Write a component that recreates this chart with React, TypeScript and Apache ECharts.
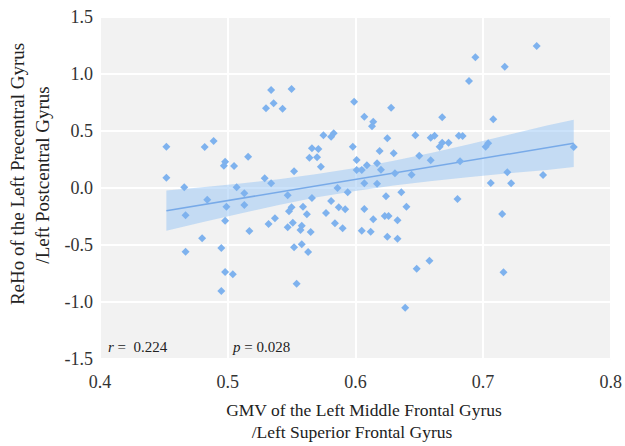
import React, { useEffect, useRef } from "react";
import * as echarts from "echarts";

const xValues = [
  0.534, 0.55, 0.536, 0.53, 0.543, 0.599, 0.452, 0.482, 0.489, 0.498,
  0.497, 0.505, 0.516, 0.575, 0.581, 0.583, 0.566, 0.571, 0.564, 0.57,
  0.573, 0.552, 0.529, 0.534, 0.452, 0.466, 0.507, 0.586, 0.598, 0.601,
  0.601, 0.742, 0.694, 0.717, 0.689, 0.628, 0.607, 0.614, 0.613, 0.668,
  0.708, 0.625, 0.647, 0.659, 0.662, 0.681, 0.684, 0.619, 0.63, 0.666,
  0.668, 0.673, 0.702, 0.704, 0.771, 0.65, 0.659, 0.682, 0.605, 0.609,
  0.617, 0.62, 0.631, 0.644, 0.719, 0.747, 0.607, 0.617, 0.706, 0.722,
  0.484, 0.513, 0.499, 0.513, 0.547, 0.566, 0.594, 0.581, 0.55, 0.548,
  0.559, 0.562, 0.587, 0.592, 0.577, 0.467, 0.498, 0.537, 0.532, 0.551,
  0.558, 0.557, 0.547, 0.565, 0.584, 0.59, 0.517, 0.48, 0.467, 0.495,
  0.552, 0.558, 0.563, 0.498, 0.504, 0.495, 0.554, 0.624, 0.636, 0.68,
  0.607, 0.64, 0.614, 0.623, 0.626, 0.633, 0.715, 0.605, 0.612, 0.625,
  0.633, 0.658, 0.648, 0.716, 0.639,
];

const yValues = [
  0.86, 0.868, 0.743, 0.7, 0.696, 0.757, 0.362, 0.36, 0.412, 0.231,
  0.196, 0.193, 0.275, 0.462, 0.45, 0.48, 0.348, 0.342, 0.266, 0.269,
  0.187, 0.146, 0.085, 0.041, 0.09, 0.006, 0.006, 0.0, 0.362, 0.246,
  0.158, 1.246, 1.146, 1.064, 0.939, 0.704, 0.625, 0.582, 0.541, 0.62,
  0.603, 0.436, 0.462, 0.441, 0.459, 0.459, 0.456, 0.325, 0.304, 0.362,
  0.397, 0.397, 0.362, 0.392, 0.36, 0.283, 0.243, 0.234, 0.158, 0.199,
  0.217, 0.161, 0.129, 0.117, 0.138, 0.114, 0.041, 0.038, 0.044, 0.041,
  -0.103, -0.046, -0.164, -0.149, -0.064, -0.088, -0.038, -0.114, -0.169, -0.204,
  -0.164, -0.231, -0.169, -0.187, -0.219, -0.239, -0.287, -0.266, -0.316, -0.304,
  -0.331, -0.368, -0.345, -0.386, -0.31, -0.354, -0.377, -0.441, -0.559, -0.526,
  -0.52, -0.494, -0.561, -0.737, -0.757, -0.904, -0.839, -0.073, -0.038, -0.096,
  -0.184, -0.164, -0.275, -0.246, -0.246, -0.283, -0.228, -0.375, -0.383, -0.427,
  -0.445, -0.638, -0.708, -0.739, -1.05,
];

const fitX = [0.452, 0.771];
const fitY = [-0.199, 0.392];

const bandX = [0.452, 0.48, 0.51, 0.54, 0.57, 0.6, 0.63, 0.66, 0.69, 0.72, 0.75, 0.771];
const bandUpper = [-0.023, 0.006, 0.039, 0.077, 0.122, 0.176, 0.239, 0.31, 0.387, 0.467, 0.548, 0.598];
const bandLower = [-0.375, -0.3, -0.223, -0.149, -0.082, -0.026, 0.023, 0.062, 0.097, 0.129, 0.158, 0.184];

const xTicks = ["0.4", "0.5", "0.6", "0.7", "0.8"];
const yTicks = ["-1.5", "-1.0", "-0.5", "0.0", "0.5", "1.0", "1.5"];

const statR = "0.224";
const statP = "0.028";

const FONT = "Liberation Serif";

export default function App() {
  const ref = useRef<HTMLDivElement>(null);

  useEffect(() => {
    if (!ref.current) return;
    const chart = echarts.init(ref.current, undefined, { renderer: "svg" });

    const points = xValues.map((x, i) => [x, yValues[i]]);
    const fitData = fitX.map((x, i) => [x, fitY[i]]);
    const bandData = bandX.map((x, i) => [x, bandLower[i], bandUpper[i]]);

    chart.setOption({
      animation: false,
      backgroundColor: "#ffffff",
      textStyle: { fontFamily: FONT },
      grid: {
        left: 100,
        right: 12,
        top: 17,
        bottom: 87,
        show: true,
        backgroundColor: "#f2f2f2",
        borderColor: "#e3e3e3",
        borderWidth: 1,
      },
      xAxis: {
        type: "value",
        min: 0.4,
        max: 0.8,
        interval: 0.1,
        axisLine: { show: false },
        axisTick: { show: false },
        splitLine: { show: true, lineStyle: { color: "#ffffff", width: 2 } },
        axisLabel: {
          margin: 14,
          color: "#333333",
          fontFamily: FONT,
          fontSize: 18,
          formatter: (v: number) => xTicks[Math.round((v - 0.4) * 10)] ?? v.toFixed(1),
        },
      },
      yAxis: {
        type: "value",
        min: -1.5,
        max: 1.5,
        interval: 0.5,
        axisLine: { show: false },
        axisTick: { show: false },
        splitLine: { show: true, lineStyle: { color: "#ffffff", width: 2 } },
        axisLabel: {
          margin: 7,
          color: "#333333",
          fontFamily: FONT,
          fontSize: 18,
          formatter: (v: number) => yTicks[Math.round((v + 1.5) * 2)] ?? v.toFixed(1),
        },
      },
      series: [
        {
          type: "custom",
          data: bandData,
          silent: true,
          z: 1,
          renderItem: (params: any, api: any) => {
            if (params.dataIndex !== 0) return null;
            const upperPts = bandX.map((x, i) => api.coord([x, bandUpper[i]]));
            const lowerPts = bandX
              .map((x, i) => api.coord([x, bandLower[i]]))
              .reverse();
            return {
              type: "polygon",
              shape: { points: upperPts.concat(lowerPts) },
              style: { fill: "rgba(140, 190, 245, 0.45)", stroke: "none" },
            };
          },
        },
        {
          type: "line",
          data: fitData,
          symbol: "none",
          lineStyle: { color: "#78aae8", width: 1.5 },
          z: 2,
        },
        {
          type: "scatter",
          data: points,
          symbol: "diamond",
          symbolSize: 8,
          itemStyle: { color: "#7eb2ee", opacity: 1 },
          z: 3,
        },
      ],
      graphic: [
        {
          type: "text",
          x: 17,
          y: 174,
          rotation: Math.PI / 2,
          style: {
            text: "ReHo of the Left Precentral Gyrus",
            fontFamily: FONT,
            fontSize: 19,
            fill: "#222222",
            textAlign: "center",
            textVerticalAlign: "middle",
          },
        },
        {
          type: "text",
          x: 42,
          y: 175,
          rotation: Math.PI / 2,
          style: {
            text: "/Left Postcentral Gyrus",
            fontFamily: FONT,
            fontSize: 19,
            fill: "#222222",
            textAlign: "center",
            textVerticalAlign: "middle",
          },
        },
        {
          type: "text",
          x: 364,
          y: 410,
          style: {
            text: "GMV of the Left Middle Frontal Gyrus",
            fontFamily: FONT,
            fontSize: 17.5,
            fill: "#222222",
            textAlign: "center",
            textVerticalAlign: "middle",
          },
        },
        {
          type: "text",
          x: 352,
          y: 432,
          style: {
            text: "/Left Superior Frontal Gyrus",
            fontFamily: FONT,
            fontSize: 17.5,
            fill: "#222222",
            textAlign: "center",
            textVerticalAlign: "middle",
          },
        },
        {
          type: "text",
          x: 108,
          y: 347,
          style: {
            text: "{i|r} =  " + statR,
            fontFamily: FONT,
            fontSize: 15,
            fill: "#222222",
            textAlign: "left",
            textVerticalAlign: "middle",
            rich: { i: { fontStyle: "italic", fontFamily: FONT, fontSize: 15, fill: "#222222" } },
          },
        },
        {
          type: "text",
          x: 233,
          y: 347,
          style: {
            text: "{i|p} = " + statP,
            fontFamily: FONT,
            fontSize: 15,
            fill: "#222222",
            textAlign: "left",
            textVerticalAlign: "middle",
            rich: { i: { fontStyle: "italic", fontFamily: FONT, fontSize: 15, fill: "#222222" } },
          },
        },
      ],
    });

    return () => chart.dispose();
  }, []);

  return (
    <div
      ref={ref}
      style={{ position: "fixed", left: 0, top: 0, width: 625, height: 446 }}
    />
  );
}
